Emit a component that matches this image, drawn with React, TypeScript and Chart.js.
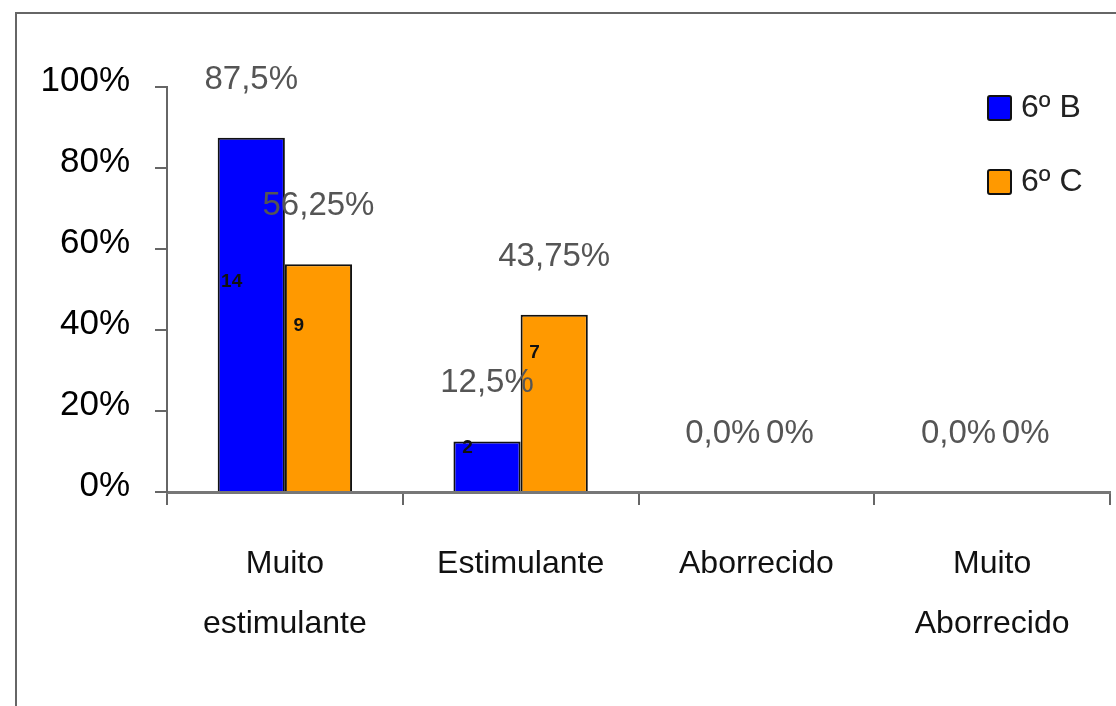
import React, { useEffect, useRef } from "react";
import { Chart, registerables } from "chart.js";

Chart.register(...registerables);

// Survey answers (categories) and share of each class per answer, in percent
const categories: (string | string[])[] = [
  ["Muito", "estimulante"],
  "Estimulante",
  "Aborrecido",
  ["Muito", "Aborrecido"],
];
const seriesNames = ["6º B", "6º C"];
const classB = [87.5, 12.5, 0, 0];
const classC = [56.25, 43.75, 0, 0];
// Number of students behind each bar
const countsB = [14, 2, 0, 0];
const countsC = [9, 7, 0, 0];
const yTicks = [0, 20, 40, 60, 80, 100];

const BLUE = "#0000FF";
const ORANGE = "#FF9900";
const FONT = "'Liberation Sans', Arial, sans-serif";

const fmtB = (v: number) => v.toFixed(Number.isInteger(v) ? 1 : String(v).split(".")[1].length).replace(".", ",") + "%";
const fmtC = (v: number) => String(v).replace(".", ",") + "%";

// Heights (in axis percent) where the student counts sit inside the bars
const countLevels = [
  [52, 11, 0, 0],
  [41, 34.5, 0, 0],
];

const decorPlugin = {
  id: "decor",
  afterDraw(chart: any) {
    const { ctx } = chart;
    const yScale = chart.scales.y;
    ctx.save();

    // outer frame
    ctx.strokeStyle = "#666";
    ctx.lineWidth = 2;
    ctx.beginPath();
    ctx.moveTo(16, 720);
    ctx.lineTo(16, 13);
    ctx.lineTo(1130, 13);
    ctx.stroke();

    const formats = [fmtB, fmtC];
    const counts = [countsB, countsC];
    chart.data.datasets.forEach((ds: any, di: number) => {
      const meta = chart.getDatasetMeta(di);
      meta.data.forEach((bar: any, i: number) => {
        const v = ds.data[i];
        // percentage label above the bar
        ctx.font = `33px ${FONT}`;
        ctx.fillStyle = "#555";
        ctx.textAlign = "center";
        ctx.textBaseline = "middle";
        ctx.fillText(formats[di](v), bar.x, bar.y - 58);
        // student count inside the bar
        const n = counts[di][i];
        if (n > 0) {
          ctx.font = `bold 19px ${FONT}`;
          ctx.fillStyle = "#111";
          ctx.textAlign = "center";
          const left = bar.x - bar.width / 2;
          ctx.fillText(String(n), left + 14, yScale.getPixelForValue(countLevels[di][i]));
        }
      });
    });

    // legend
    chart.data.datasets.forEach((ds: any, di: number) => {
      const y = 108 + di * 74;
      ctx.fillStyle = ds.backgroundColor;
      ctx.strokeStyle = "#111";
      ctx.lineWidth = 2;
      ctx.beginPath();
      ctx.roundRect(988, y - 12, 23, 24, 2);
      ctx.fill();
      ctx.stroke();
      ctx.font = `32px ${FONT}`;
      ctx.fillStyle = "#222";
      ctx.textAlign = "left";
      ctx.textBaseline = "middle";
      ctx.fillText(ds.label, 1021, y);
    });
    ctx.restore();
  },
};

export default function App() {
  const ref = useRef<HTMLCanvasElement>(null);

  useEffect(() => {
    if (!ref.current) return;
    const chart = new Chart(ref.current, {
      type: "bar",
      data: {
        labels: categories,
        datasets: [
          {
            label: seriesNames[0],
            data: classB,
            backgroundColor: BLUE,
            borderColor: "#111",
            borderWidth: 2,
          },
          {
            label: seriesNames[1],
            data: classC,
            backgroundColor: ORANGE,
            borderColor: "#111",
            borderWidth: 2,
          },
        ],
      },
      options: {
        animation: false,
        responsive: false,
        devicePixelRatio: 1,
        layout: { padding: { top: 87, right: 6, left: 0, bottom: 0 } },
        plugins: {
          legend: { display: false },
          tooltip: { enabled: false },
        },
        datasets: {
          bar: { categoryPercentage: 0.57, barPercentage: 1 },
        },
        scales: {
          x: {
            grid: {
              offset: true,
              drawOnChartArea: false,
              drawTicks: true,
              tickLength: 13,
              color: "#666",
              lineWidth: 2,
            },
            border: { color: "#777", width: 3 },
            ticks: {
              font: { family: FONT, size: 32, lineHeight: 1.85 },
              color: "#111",
              padding: 30,
              maxRotation: 0,
              autoSkip: false,
            },
            afterFit(scale: any) {
              scale.height = 214;
            },
          },
          y: {
            min: 0,
            max: 100,
            afterBuildTicks(scale: any) {
              scale.ticks = yTicks.map((v) => ({ value: v }));
            },
            grid: {
              drawOnChartArea: false,
              drawTicks: true,
              tickLength: 12,
              color: "#666",
              lineWidth: 2,
            },
            border: { color: "#666", width: 2 },
            ticks: {
              font: { family: FONT, size: 35 },
              color: "#000",
              padding: 25,
              labelOffset: -6,
              callback: (v: any) => v + "%",
            },
            afterFit(scale: any) {
              scale.width = 167;
            },
          },
        },
      },
      plugins: [decorPlugin],
    });
    return () => chart.destroy();
  }, []);

  return (
    <div style={{ position: "fixed", left: 0, top: 0, width: 1116, height: 706, background: "#fff" }}>
      <canvas ref={ref} width={1116} height={706} style={{ display: "block" }} />
    </div>
  );
}
